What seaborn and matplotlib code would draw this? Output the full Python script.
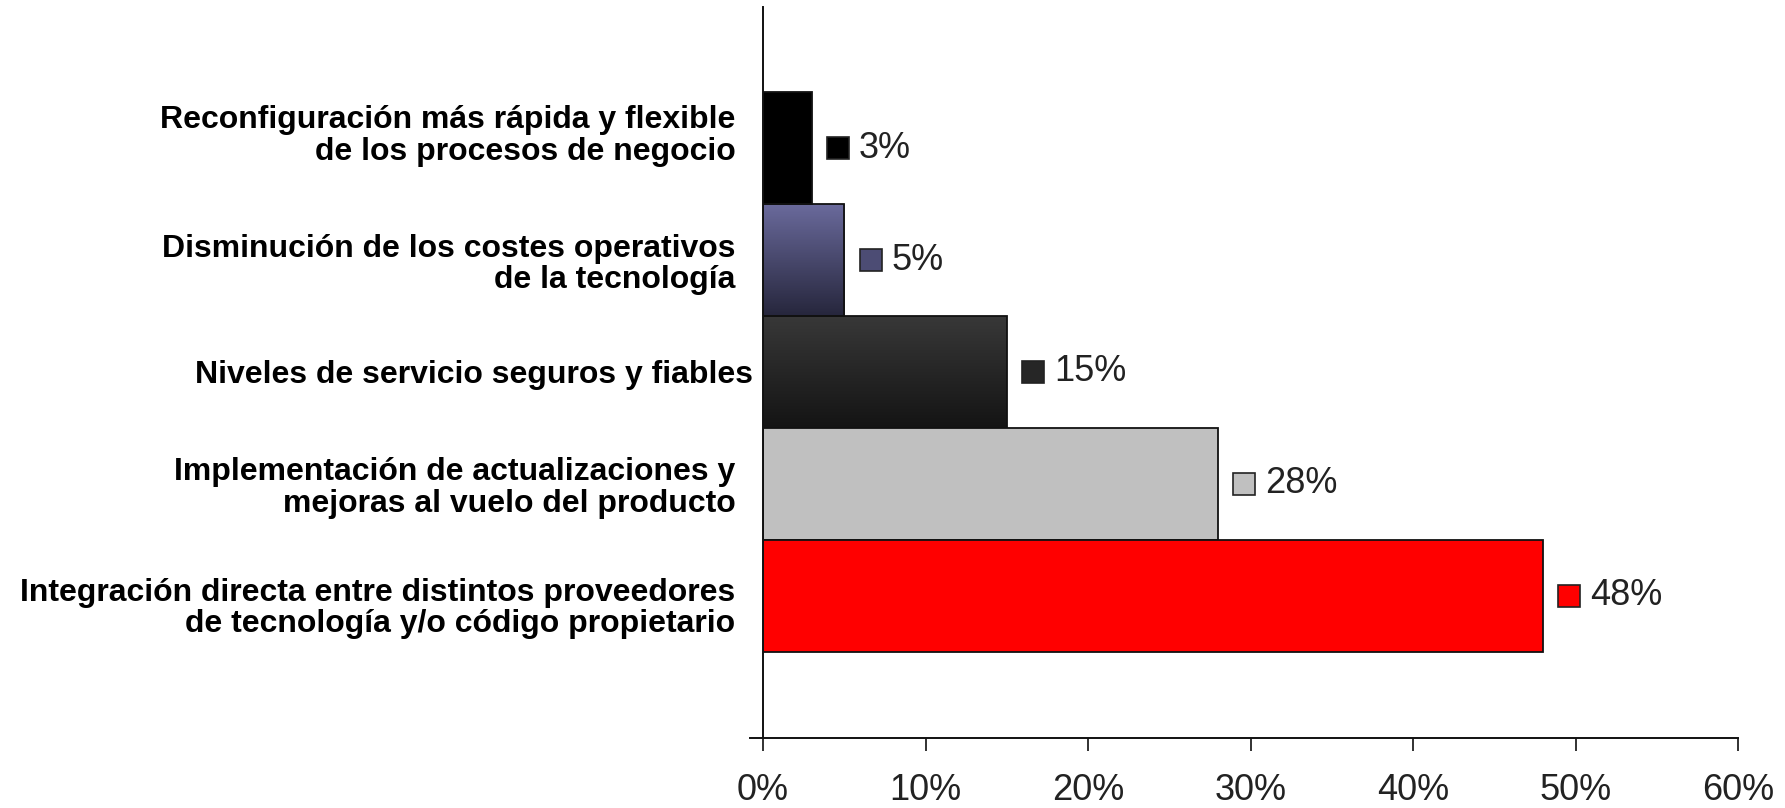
import numpy as np
import pandas as pd
import seaborn as sns
import matplotlib.pyplot as plt
import matplotlib.transforms as mtransforms
from matplotlib.colors import LinearSegmentedColormap

categories = [
    "Reconfiguración más rápida y flexible\nde los procesos de negocio",
    "Disminución de los costes operativos\nde la tecnología",
    "Niveles de servicio seguros y fiables",
    "Implementación de actualizaciones y\nmejoras al vuelo del producto",
    "Integración directa entre distintos proveedores\nde tecnología y/o código propietario",
]
values = [3, 5, 15, 28, 48]
tick_values = [0, 10, 20, 30, 40, 50, 60]

# bar colours (top, bottom) for a vertical gradient
top_colors = ["#000000", "#6a6a9c", "#383838", "#c0c0c0", "#ff0000"]
bottom_colors = ["#000000", "#26263c", "#141414", "#c0c0c0", "#ff0000"]
key_colors = ["#000000", "#4c4c74", "#262626", "#c0c0c0", "#ff0000"]

df = pd.DataFrame({"cat": categories, "val": values})

sns.set_style("white")
plt.rcParams["font.family"] = ["Liberation Sans", "DejaVu Sans"]

fig = plt.figure(figsize=(17.85, 8.08), dpi=100)
ax = fig.add_axes([0.4275, 0.0866, 0.9737 - 0.4275, 0.9913 - 0.0866])

sns.barplot(data=df, x="val", y="cat", hue="cat", palette=key_colors,
            orient="h", width=1.0, legend=False, ax=ax, saturation=1,
            edgecolor="#111111", linewidth=1.3)

ax.set_xlim(0, 60)
ax.set_ylim(5.27, -1.26)

# gradient fills clipped to bars
for p, c1, c2 in zip(ax.patches, top_colors, bottom_colors):
    if c1 == c2:
        continue
    x0, y0 = p.get_x(), p.get_y()
    w, h = p.get_width(), p.get_height()
    cmap = LinearSegmentedColormap.from_list("g", [c1, c2])
    grad = np.linspace(0, 1, 256).reshape(-1, 1)
    im = ax.imshow(grad, cmap=cmap, aspect="auto", extent=[x0, x0 + w, y0 + h, y0],
                   origin="upper", zorder=p.get_zorder() - 0.1)
    im.set_clip_path(p)
    p.set_facecolor("none")
ax.set_xlim(0, 60)
ax.set_ylim(5.27, -1.26)

# value labels with colour keys
for i, v in enumerate(values):
    tr = mtransforms.offset_copy(ax.transData, fig=fig, x=19, y=0, units="points")
    ax.plot([v], [i], marker="s", markersize=16, color=key_colors[i],
            markeredgecolor="#222222", markeredgewidth=1.2, transform=tr,
            clip_on=False, zorder=5)
    ax.annotate(f"{v}%", xy=(v, i), xytext=(34, 0), textcoords="offset points",
                ha="left", va="center", fontsize=26, color="#222222")

ax.set_xticks(tick_values)
ax.set_xticklabels([f"{t}%" for t in tick_values], fontsize=26, color="#222222")
ax.tick_params(axis="x", direction="out", length=9, width=1.3, pad=16,
               bottom=True, colors="#222222")
ax.tick_params(axis="y", length=0, pad=20)

ax.set_yticks(range(len(categories)))
ax.set_yticklabels(categories, fontsize=23, fontweight="bold", color="black",
                   linespacing=1.07)
ylbls = ax.get_yticklabels()
ylbls[0].set_transform(ylbls[0].get_transform() +
                       mtransforms.ScaledTranslation(0, 12 / 72, fig.dpi_scale_trans))
ylbls[2].set_transform(ylbls[2].get_transform() +
                       mtransforms.ScaledTranslation(13 / 72, 0, fig.dpi_scale_trans))
ylbls[4].set_transform(ylbls[4].get_transform() +
                       mtransforms.ScaledTranslation(0, -6 / 72, fig.dpi_scale_trans))

ax.set_xlabel("")
ax.set_ylabel("")
sns.despine(ax=ax, top=True, right=True)
for s in ["left", "bottom"]:
    ax.spines[s].set_linewidth(1.4)
    ax.spines[s].set_color("#111111")
ax.spines["bottom"].set_bounds(-0.8, 60)

fig.savefig("out.png", dpi=100)
